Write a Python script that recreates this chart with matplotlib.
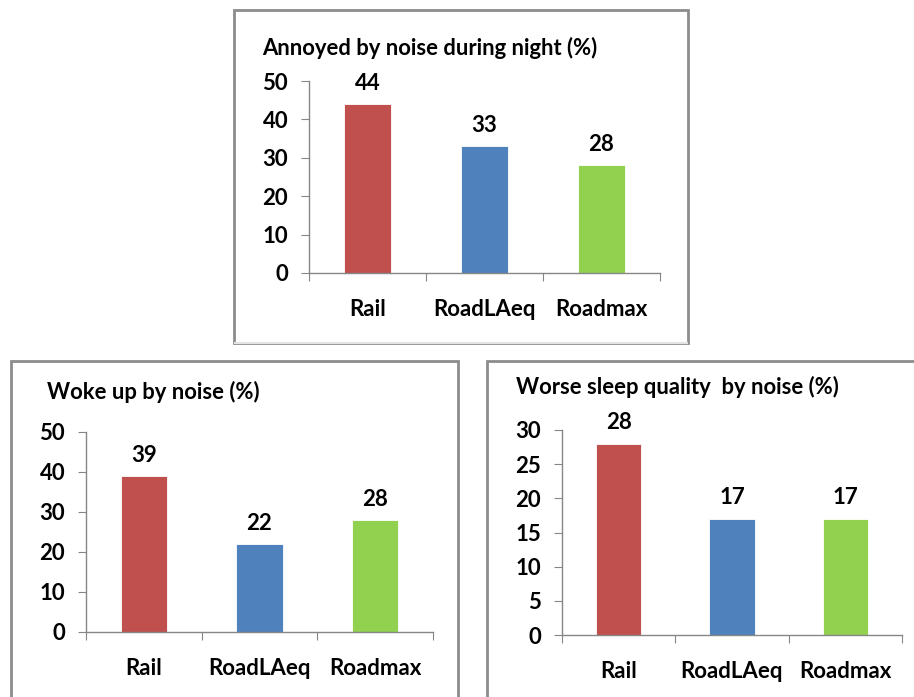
import matplotlib.pyplot as plt
from matplotlib.patches import Rectangle

plt.rcParams['font.family'] = ['Lato', 'DejaVu Sans']

# Data
categories = ['Rail', 'RoadLAeq', 'Roadmax']
colors = ['#C0504D', '#4F81BD', '#92D050']

annoyed_title = 'Annoyed by noise during night (%)'
annoyed = [44, 33, 28]

woke_title = 'Woke up by noise (%)'
woke = [39, 22, 28]

sleep_title = 'Worse sleep quality  by noise (%)'
sleep = [28, 17, 17]

W, H = 914, 697
fig = plt.figure(figsize=(W / 100, H / 100), dpi=100)


def px_axes(left, right, top, bottom):
    return fig.add_axes([left / W, 1 - bottom / H, (right - left) / W, (bottom - top) / H])


def px_box(left, top, right, bottom, color='#8c8c8c', lw=2):
    fig.patches.append(Rectangle((left / W, 1 - bottom / H), (right - left) / W,
                                 (bottom - top) / H, transform=fig.transFigure,
                                 fill=False, edgecolor=color, linewidth=lw))


def panel(ax, values, ymax, step, title, title_xy):
    x = range(len(values))
    ax.bar(x, values, width=0.4, color=colors, edgecolor='white', linewidth=0.6)
    ax.set_xlim(-0.5, len(values) - 0.5)
    ax.set_ylim(0, ymax)
    ax.set_yticks(range(0, ymax + 1, step))
    ax.set_yticklabels([str(v) for v in range(0, ymax + 1, step)],
                       fontsize=16, fontweight='bold')
    ax.set_xticks([i - 0.5 for i in range(len(values) + 1)])
    ax.set_xticklabels([])
    ax.tick_params(axis='x', length=6, color='#868686', direction='out')
    ax.tick_params(axis='y', length=6, color='#868686', direction='out', pad=9)
    for i, c in enumerate(categories):
        ax.annotate(c, (i, 0), xytext=(0, -26), textcoords='offset points',
                    ha='center', va='center', fontsize=16, fontweight='bold')
    for i, v in enumerate(values):
        ax.annotate(str(v), (i, v), xytext=(0, 15), textcoords='offset points',
                    ha='center', va='center', fontsize=16, fontweight='bold')
    for s in ['top', 'right']:
        ax.spines[s].set_visible(False)
    for s in ['left', 'bottom']:
        ax.spines[s].set_color('#868686')
        ax.spines[s].set_linewidth(1)
    fig.text(title_xy[0] / W, 1 - title_xy[1] / H, title, fontsize=15.8,
             fontweight='bold', ha='left', va='center')


# boxes
px_box(234, 10, 688, 343)
fig.patches.append(Rectangle((234 / W, 1 - 343 / H), 454 / W, 0, transform=fig.transFigure,
                             fill=False, edgecolor='#e4e4e4', linewidth=1.5))
px_box(11, 361, 458, 720)
px_box(487, 361, 930, 720)

ax1 = px_axes(309, 660, 81, 273)
panel(ax1, annoyed, 50, 10, annoyed_title, (262, 48))

ax2 = px_axes(86, 433, 432, 632)
panel(ax2, woke, 50, 10, woke_title, (47, 392))

ax3 = px_axes(562, 902, 430, 635)
panel(ax3, sleep, 30, 5, sleep_title, (516, 387))

fig.savefig('out.png', dpi=100, facecolor='white')
